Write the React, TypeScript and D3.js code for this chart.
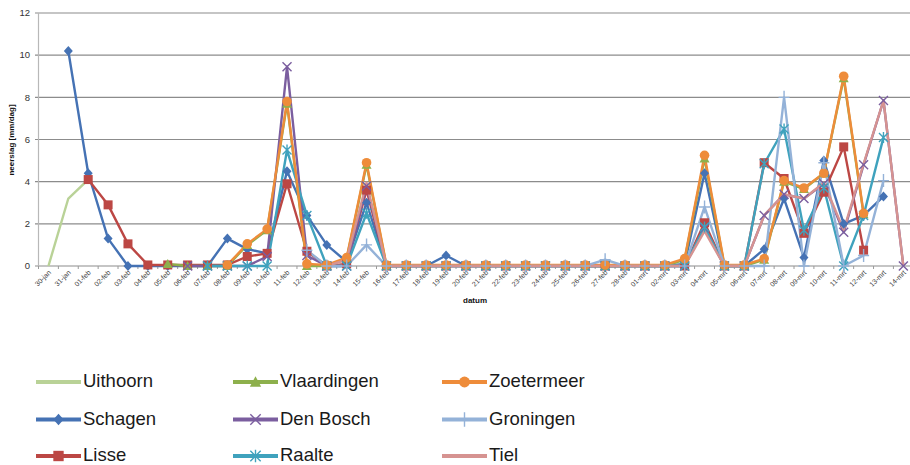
import React from "react";
import * as d3 from "d3";

const N = null;

const dates = [
  "30-jan", "31-jan", "01-feb", "02-feb", "03-feb", "04-feb", "05-feb", "06-feb", "07-feb", "08-feb", "09-feb",
  "10-feb", "11-feb", "12-feb", "13-feb", "14-feb", "15-feb", "16-feb", "17-feb", "18-feb", "19-feb", "20-feb",
  "21-feb", "22-feb", "23-feb", "24-feb", "25-feb", "26-feb", "27-feb", "28-feb", "01-mrt", "02-mrt", "03-mrt",
  "04-mrt", "05-mrt", "06-mrt", "07-mrt", "08-mrt", "09-mrt", "10-mrt", "11-mrt", "12-mrt", "13-mrt", "14-mrt",
];

const uithoorn = [
  0, 3.2, 4.1, N, N, N, N, N, N, N, N,
  N, N, N, N, N, N, N, N, N, N, N,
  N, N, N, N, N, N, N, N, N, N, N,
  N, N, N, N, N, N, N, N, N, N, N,
];
const schagen = [
  N, 10.2, 4.4, 1.3, 0, 0, 0, 0, 0, 1.3, 0.8,
  0.6, 4.5, 2.4, 1.0, 0.2, 3.0, 0, 0, 0, 0.5, 0,
  0, 0, 0, 0, 0, 0, 0, 0, 0, 0, 0.1,
  4.4, 0, 0, 0.8, 3.2, 0.4, 5.0, 2.0, 2.4, 3.3, N,
];
const lisse = [
  N, N, 4.1, 2.9, 1.05, 0.05, 0.05, 0.05, 0.05, 0.05, 0.45,
  0.6, 3.9, 0.7, 0, 0.1, 3.6, 0, 0, 0, 0, 0,
  0, 0, 0, 0, 0, 0, 0, 0, 0, 0, 0,
  2.05, 0, 0, 4.9, 4.15, 1.55, 3.5, 5.65, 0.75, N, N,
];
const vlaardingen = [
  N, N, N, N, N, N, 0.1, 0, 0, 0, 1.0,
  1.7, 7.7, 0, 0, 0.35, 4.8, 0, 0, 0, 0, 0,
  0, 0, 0, 0, 0, 0, 0, 0, 0, 0, 0.3,
  5.1, 0, 0, 0.3, 4.0, 3.65, 4.4, 8.9, 2.45, N, N,
];
const denBosch = [
  N, N, N, N, N, N, N, 0, 0, 0, 0,
  0.45, 9.45, 0.5, 0, 0, 3.8, 0, 0, 0, 0, 0,
  0, 0, 0, 0, 0, 0, 0, 0, 0, 0, 0,
  1.8, 0, 0, 2.4, 3.4, 3.2, 3.9, 1.6, 4.8, 7.85, 0,
];
const raalte = [
  N, N, N, N, N, N, N, N, 0, 0, 0,
  0, 5.5, 2.4, 0, 0, 2.5, 0, 0, 0, 0, 0,
  0, 0, 0, 0, 0, 0, 0, 0, 0, 0, 0,
  1.85, 0, 0, 4.85, 6.5, 1.7, 3.7, 0, 2.4, 6.1, N,
];
const zoetermeer = [
  N, N, N, N, N, N, N, N, N, 0.05, 1.05,
  1.75, 7.8, 0.1, 0.05, 0.4, 4.9, 0.05, 0.05, 0.05, 0.05, 0.05,
  0.05, 0.05, 0.05, 0.05, 0.05, 0.05, 0.05, 0.05, 0.05, 0.05, 0.35,
  5.25, 0.05, 0.05, 0.35, 4.05, 3.7, 4.4, 9.0, 2.5, N, N,
];
const groningen = [
  N, N, N, N, N, N, N, N, N, N, N,
  N, N, 0.75, 0, 0, 1.0, 0, 0, 0, 0, 0,
  0, 0, 0, 0, 0, 0, 0.3, 0, 0, 0, 0,
  2.8, 0, 0, 0, 8.0, 0, 4.9, 0, 0.5, 4.05, N,
];
const tiel = [
  N, N, N, N, N, N, N, N, N, N, N,
  N, N, N, 0, 0.3, 3.95, 0, 0, 0, 0, 0,
  0, 0, 0, 0, 0, 0, 0, 0, 0, 0, 0,
  1.65, 0, 0, 2.4, 3.4, 3.2, 3.95, 1.7, 4.85, 7.85, 0,
];

const yTicks = [0, 2, 4, 6, 8, 10, 12];

// drawing order (bottom to top)
const series = [
  { name: "Schagen", values: schagen, color: "#4572B4", marker: "diamond" },
  { name: "Lisse", values: lisse, color: "#BC4744", marker: "square" },
  { name: "Vlaardingen", values: vlaardingen, color: "#8DB04C", marker: "triangle" },
  { name: "Den Bosch", values: denBosch, color: "#7B5E9F", marker: "x" },
  { name: "Raalte", values: raalte, color: "#3FA2BD", marker: "star" },
  { name: "Zoetermeer", values: zoetermeer, color: "#EE8C3A", marker: "circle" },
  { name: "Groningen", values: groningen, color: "#94B2D8", marker: "plus" },
  { name: "Tiel", values: tiel, color: "#D69391", marker: "none" },
  { name: "Uithoorn", values: uithoorn, color: "#B9D297", marker: "none" },
];

const legendCols = [
  ["Uithoorn", "Schagen", "Lisse"],
  ["Vlaardingen", "Den Bosch", "Raalte"],
  ["Zoetermeer", "Groningen", "Tiel"],
];

const W = 910;
const H = 465;
const FONT = "'Liberation Sans', Arial, sans-serif";

function Marker({ type, color, x, y, k = 1 }: { type: string; color: string; x: number; y: number; k?: number }) {
  const s = 4.5 * k;
  switch (type) {
    case "diamond":
      return <path d={`M${x},${y - s - 0.5}L${x + s},${y}L${x},${y + s + 0.5}L${x - s},${y}Z`} fill={color} />;
    case "square":
      return <rect x={x - s} y={y - s} width={2 * s} height={2 * s} fill={color} />;
    case "triangle":
      return <path d={`M${x},${y - s - 0.5}L${x + s + 0.5},${y + s - 0.5}L${x - s - 0.5},${y + s - 0.5}Z`} fill={color} />;
    case "x":
      return (
        <path d={`M${x - s},${y - s}L${x + s},${y + s}M${x - s},${y + s}L${x + s},${y - s}`}
          stroke={color} strokeWidth={1.4} fill="none" />
      );
    case "star":
      return (
        <path d={`M${x - s},${y - s}L${x + s},${y + s}M${x - s},${y + s}L${x + s},${y - s}M${x},${y - s - 1}L${x},${y + s + 1}`}
          stroke={color} strokeWidth={1.4} fill="none" />
      );
    case "circle":
      return <circle cx={x} cy={y} r={s + 0.3} fill={color} />;
    case "plus":
      return (
        <path d={`M${x},${y - s - 2}L${x},${y + s + 2}M${x - s - 1},${y}L${x + s + 1},${y}`}
          stroke={color} strokeWidth={1.4} fill="none" />
      );
    default:
      return null;
  }
}

export default function App() {
  const x = d3.scaleBand<string>().domain(dates).range([38.5, 913.3]);
  const cx = (d: string) => (x(d) as number) + x.bandwidth() / 2;
  const y = d3.scaleLinear().domain([0, 12]).range([266, 13]);

  const line = d3
    .line<number | null>()
    .defined((d) => d != null)
    .x((_, i) => cx(dates[i]))
    .y((d) => y(d as number));

  const byName = new Map(series.map((s) => [s.name, s]));

  return (
    <svg width={W} height={H} style={{ position: "fixed", left: 0, top: 0, background: "#fff" }}
      fontFamily={FONT}>
      {/* gridlines */}
      {yTicks.map((t) => (
        <line key={t} x1={35} x2={W} y1={y(t)} y2={y(t)} stroke="#8c8c8c" strokeWidth={1.2} />
      ))}
      <line x1={38.5} x2={38.5} y1={y(12)} y2={y(0)} stroke="#b8b8b8" strokeWidth={1.2} />
      {dates.map((d) => (
        <line key={d} x1={x(d) as number} x2={x(d) as number} y1={266} y2={269} stroke="#9a9a9a" strokeWidth={1} />
      ))}

      {/* y tick labels */}
      {yTicks.map((t) => (
        <text key={t} x={30} y={y(t)} dy="0.35em" textAnchor="end" fontSize={9.5} fill="#333">
          {t}
        </text>
      ))}

      {/* x tick labels */}
      {dates.map((d) => (
        <text key={d} transform={`translate(${cx(d) + 3},${273}) rotate(-45)`} textAnchor="end"
          fontSize={7} fill="#404040">
          {d}
        </text>
      ))}

      <text transform="translate(14,140) rotate(-90)" textAnchor="middle" fontSize={8} fontWeight="bold" fill="#111">
        neerslag [mm/dag]
      </text>
      <text x={475} y={303} textAnchor="middle" fontSize={8} fontWeight="bold" fill="#111">
        datum
      </text>

      {/* lines */}
      {series.map((s) => (
        <path key={s.name} d={line(s.values) || ""} fill="none" stroke={s.color} strokeWidth={2.4}
          strokeLinejoin="round" />
      ))}
      {/* markers */}
      {series.map((s) =>
        s.values.map((v, i) =>
          v == null ? null : (
            <Marker key={s.name + i} type={s.marker} color={s.color} x={cx(dates[i])} y={y(v)} />
          )
        )
      )}

      {/* legend */}
      {legendCols.map((col, ci) =>
        col.map((name, ri) => {
          const s = byName.get(name)!;
          const lx = [36, 233, 442][ci];
          const ly = [381, 418.5, 455][ri];
          return (
            <g key={name}>
              <line x1={lx} x2={lx + 45} y1={ly + 1} y2={ly + 1} stroke={s.color} strokeWidth={3.8} />
              <Marker type={s.marker} color={s.color} x={lx + 22.5} y={ly + 1} k={1.15} />
              <text x={lx + 47} y={ly + 6} fontSize={18.5} fill="#1a1a1a">
                {name}
              </text>
            </g>
          );
        })
      )}
    </svg>
  );
}
